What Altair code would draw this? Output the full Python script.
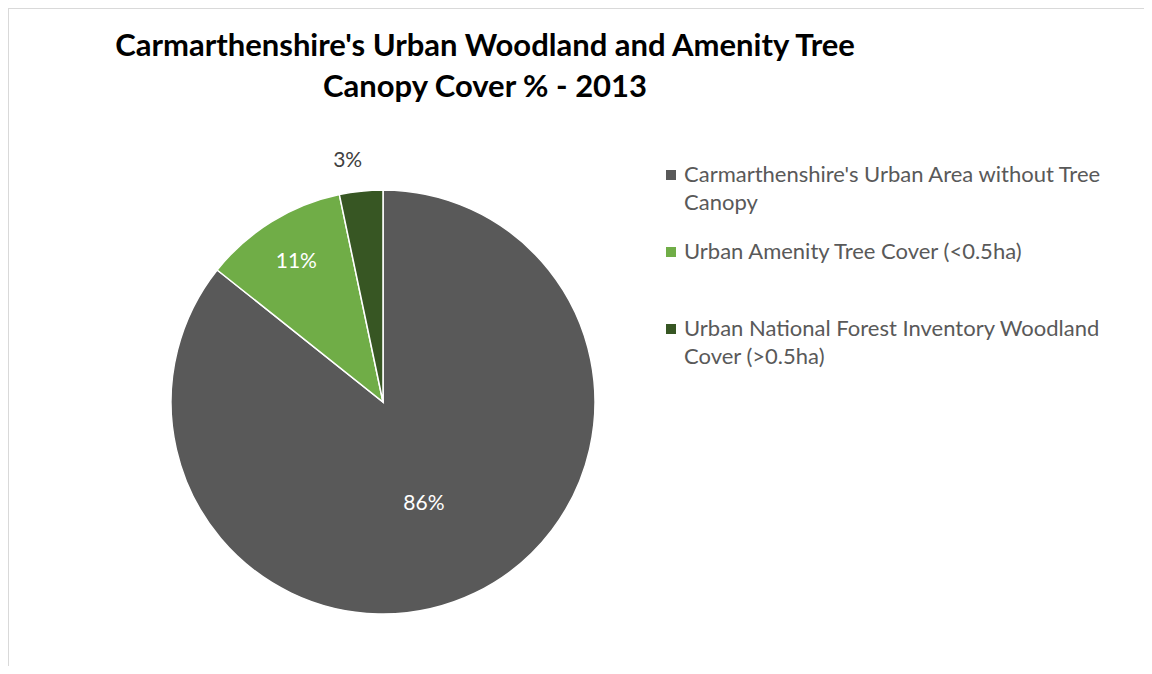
import json
import altair as alt
import pandas as pd

categories = [
    "Carmarthenshire's Urban Area without Tree Canopy",
    "Urban Amenity Tree Cover (<0.5ha)",
    "Urban National Forest Inventory Woodland Cover (>0.5ha)",
]
legend_lines = [
    ["Carmarthenshire's Urban Area without Tree", "Canopy"],
    ["Urban Amenity Tree Cover (<0.5ha)", ""],
    ["Urban National Forest Inventory Woodland", "Cover (>0.5ha)"],
]
shares = [85.7, 11.0, 3.3]
pct_labels = ["86%", "11%", "3%"]
colors = ["#595959", "#70AD47", "#375623"]
title_lines = ["Carmarthenshire's Urban Woodland and Amenity Tree", "Canopy Cover % - 2013"]

df = pd.DataFrame({
    "category": categories,
    "share": shares,
    "label": pct_labels,
    "idx": list(range(len(categories))),
})

label_expr = ""
for cat, lines in zip(categories, legend_lines):
    label_expr += f"datum.label == {json.dumps(cat)} ? {json.dumps(lines)} : "
label_expr += "datum.label"

W, H = 1136, 658
CX, CY, R = 375, 394, 212
label_radius = [108, 165, 245]
label_color = ["white", "white", "#404040"]
label_dx = [-6, 0, -10]
label_dy = [5, 0, 3]

base = alt.Chart(df)

pie = base.mark_arc(radius=R, stroke="white", strokeWidth=1.5, x=CX, y=CY).encode(
    theta=alt.Theta("share:Q", stack=True),
    color=alt.Color(
        "category:N",
        scale=alt.Scale(domain=categories, range=colors),
        sort=categories,
        legend=alt.Legend(
            title=None,
            orient="none",
            legendX=652,
            legendY=156,
            symbolType="square",
            symbolSize=100,
            symbolStrokeWidth=0,
            labelFont="Lato",
            labelFontSize=22,
            labelColor="#595959",
            labelBaseline="top",
            labelLimit=700,
            labelOffset=2,
            rowPadding=27,
            padding=0,
            labelExpr=label_expr,
        ),
    ),
    order=alt.Order("idx:Q"),
)

text_layers = []
for i in range(len(categories)):
    text_layers.append(
        base.mark_text(font="Lato", fontSize=21, x=CX, y=CY, radius=label_radius[i],
                       color=label_color[i], dx=label_dx[i], dy=label_dy[i]).encode(
            theta=alt.Theta("share:Q", stack=True),
            order=alt.Order("idx:Q"),
            text=alt.condition(f"datum.idx == {i}", "label:N", alt.value("")),
        )
    )

title = alt.Chart(pd.DataFrame({"t": [0]})).mark_text(
    font="Lato", fontSize=31, fontWeight="bold", color="#000000",
    text=title_lines, lineHeight=41, baseline="middle", align="center",
).encode(x=alt.value(477), y=alt.value(39))

border_top = alt.Chart(pd.DataFrame({"t": [0]})).mark_rule(color="#d9d9d9", strokeWidth=2).encode(
    x=alt.value(0), x2=alt.value(W + 20), y=alt.value(0)
)
border_left = alt.Chart(pd.DataFrame({"t": [0]})).mark_rule(color="#d9d9d9", strokeWidth=2).encode(
    x=alt.value(0), y=alt.value(0), y2=alt.value(H + 20)
)

chart = alt.layer(pie, *text_layers, title, border_top, border_left).properties(
    width=W, height=H, padding=0, autosize=alt.AutoSizeParams(type="none")
).configure(
    view=alt.ViewConfig(strokeWidth=0),
    style={"guide-label": {"lineHeight": 28, "dy": -10}},
)

chart.save("out.html", embed_options={"renderer": "svg", "actions": False})
